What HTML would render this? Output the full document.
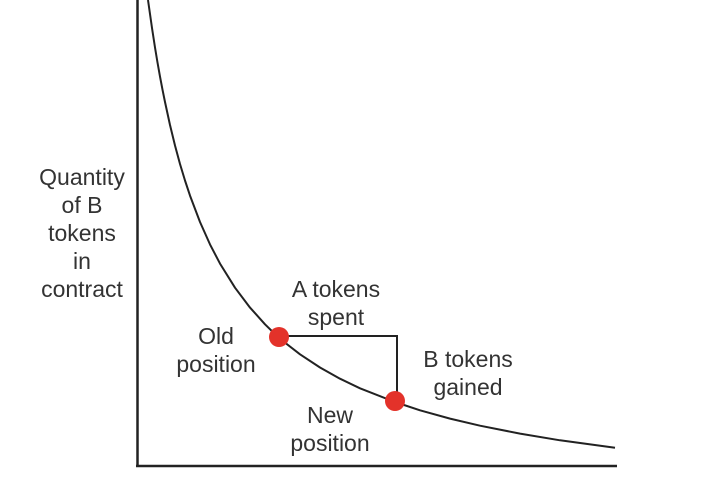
<!DOCTYPE html>
<html><head><meta charset="utf-8"><style>
html,body{margin:0;padding:0;background:#fff;}
svg{display:block;}
text{font-family:"Liberation Sans",sans-serif;font-size:23px;fill:#333;text-anchor:middle;}
</style></head><body>
<svg width="720" height="478" viewBox="0 0 720 478">
<line x1="137.5" y1="0" x2="137.5" y2="467" stroke="#222" stroke-width="2.5"/>
<line x1="136" y1="466" x2="617" y2="466" stroke="#222" stroke-width="2.5"/>
<polyline fill="none" stroke="#222" stroke-width="2" stroke-linejoin="round"
points="148,0 149,7 150,14 152,28 155,47.5 157.5,62.5 160,76.6 162.5,89.7 165,102 170,125 175,145.5 180,164 185,180.5 190,195.6 200,222 210,244.4 220,263.6 235,287.7 250,307.6 265,324.3 279,338 300,354.3 320,367.5 340,378.7 360,388.3 395,402 420,410.3 450,418.6 480,425.7 520,433.6 560,440.3 615,447.7"/>
<polyline fill="none" stroke="#222" stroke-width="2" points="279,336 397,336 397,401"/>
<circle cx="279" cy="337" r="10" fill="#e3322a"/>
<circle cx="395" cy="401" r="10" fill="#e3322a"/>
<text x="82" y="185">Quantity</text>
<text x="82" y="213">of B</text>
<text x="82" y="241">tokens</text>
<text x="82" y="269">in</text>
<text x="82" y="297">contract</text>
<text x="336" y="297">A tokens</text>
<text x="336" y="325">spent</text>
<text x="216" y="344">Old</text>
<text x="216" y="372">position</text>
<text x="468" y="367">B tokens</text>
<text x="468" y="395">gained</text>
<text x="330" y="423">New</text>
<text x="330" y="451">position</text>
</svg>
</body></html>
